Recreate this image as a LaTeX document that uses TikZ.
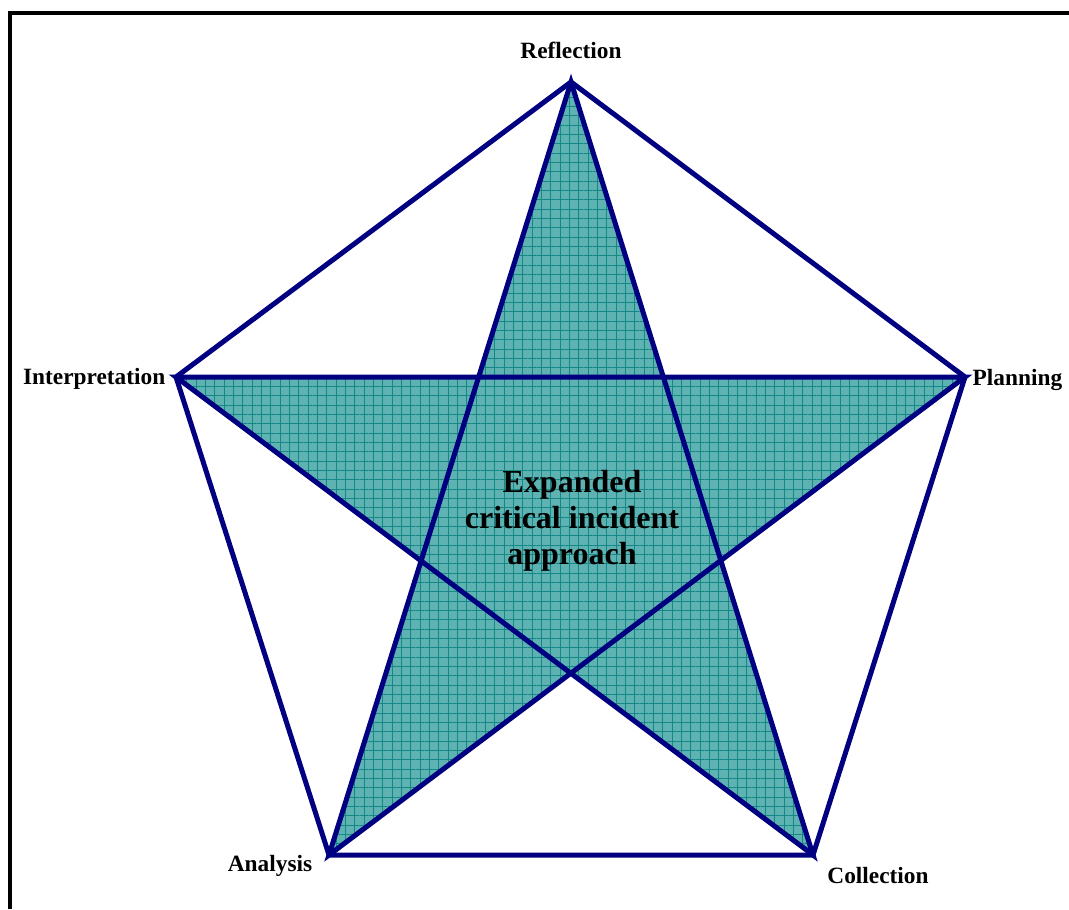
\documentclass[tikz,border=0pt]{standalone}
\usepackage{fontspec}
\setmainfont{Liberation Serif}
\usetikzlibrary{patterns.meta}

\definecolor{starteal}{RGB}{95,178,178}
\definecolor{gridteal}{RGB}{20,135,135}
\definecolor{edgenavy}{RGB}{0,0,128}

\begin{document}
\begin{tikzpicture}[x=0.75pt, y=-0.75pt,
	edge/.style={color=edgenavy, line width=3.75pt},
	stage/.style={font=\fontsize{17.5}{20}\selectfont\bfseries}]
	\useasboundingbox (0,0) rectangle (1069,909);

	% Frame
	\draw[line width=2.6pt] (10,909) -- (10,13) -- (1069,13);

	% Corners of the pentagon
	\coordinate (refl) at (571,82);
	\coordinate (plan) at (965,377);
	\coordinate (coll) at (813,855);
	\coordinate (anal) at (329,855);
	\coordinate (intp) at (176,377);

	% Fill the star
	\fill[starteal] (refl) -- (anal) -- (plan) -- (intp) -- (coll) -- cycle;
	\fill[pattern={Hatch[angle=0, distance=7pt, line width=0.6pt]}, pattern color=gridteal]
		(refl) -- (anal) -- (plan) -- (intp) -- (coll) -- cycle;

	% Star and pentagon edges
	\draw[edge] (refl) -- (anal) -- (plan) -- (intp) -- (coll) -- cycle;
	\draw[edge] (refl) -- (plan) -- (coll) -- (anal) -- (intp) -- cycle;

	% Stage labels
	\node[stage] (reflection) at (571,50) {Reflection};
	\node[stage, right] (planning) at (968,380) {Planning};
	\node[stage, left] (interpretation) at (170,379) {Interpretation};
	\node[stage] (analysis) at (270,866) {Analysis};
	\node[stage] (collection) at (878,876) {Collection};

	% Centre text
	\node[align=center, font=\fontsize{24}{27}\selectfont\bfseries] (approach) at (572,521)
		{Expanded\\critical incident\\approach};
\end{tikzpicture}
\end{document}
